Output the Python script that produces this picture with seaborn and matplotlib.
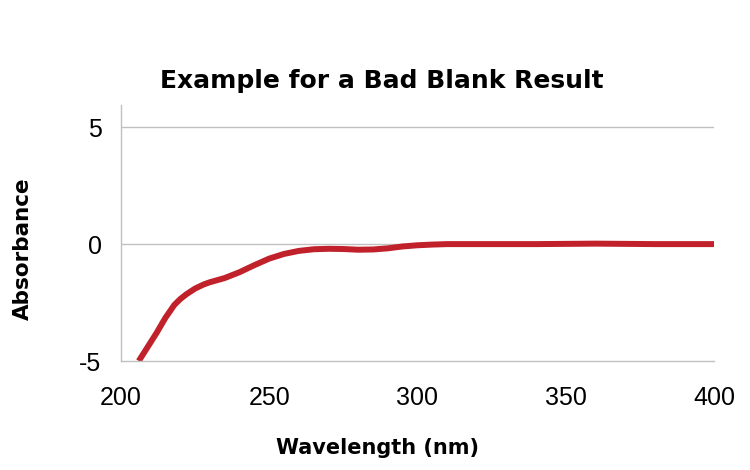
import pandas as pd
import seaborn as sns
import matplotlib.pyplot as plt

# values
wavelength = [206, 208, 210, 212, 215, 218, 220, 222, 225, 228, 230, 235, 240, 245, 250, 255, 260,
              265, 270, 275, 280, 285, 290, 295, 300, 305, 310, 320, 340, 360, 380, 400]
absorbance = [-5.0, -4.6, -4.2, -3.8, -3.15, -2.6, -2.35, -2.15, -1.9, -1.72, -1.63, -1.45, -1.2,
              -0.9, -0.62, -0.42, -0.29, -0.22, -0.2, -0.21, -0.24, -0.23, -0.18, -0.1, -0.05,
              -0.02, 0.0, 0.0, 0.0, 0.02, 0.0, 0.0]
x_ticks = [200, 250, 300, 350, 400]
y_ticks = [-5, 0, 5]

sns.set_style("white")
plt.rcParams['font.family'] = ['Liberation Sans', 'DejaVu Sans']
plt.rcParams['text.color'] = 'black'
plt.rcParams['axes.labelcolor'] = 'black'

mydata = pd.DataFrame({"Wavelength": wavelength, "Absorbance": absorbance})

fig = plt.figure(figsize=(7.5, 4.7), dpi=100)
ax = fig.add_axes([0.1613, 0.2319, 0.7907, 0.5447])

sns.lineplot(data=mydata, x="Wavelength", y="Absorbance", color="#c0212a",
             linewidth=4.3, ax=ax, solid_capstyle="butt", solid_joinstyle="round")

ax.set_xlim(200, 400)
ax.set_ylim(-5, 5.95)
ax.set_xticks(x_ticks)
ax.set_yticks(y_ticks)
ax.set_yticklabels(["-5", "0", "5"])

for yv in [0, 5]:
    ax.axhline(yv, color="#c0c0c0", linewidth=1, zorder=0)

for side in ["top", "right"]:
    ax.spines[side].set_visible(False)
for side in ["left", "bottom"]:
    ax.spines[side].set_color("#c0c0c0")
    ax.spines[side].set_linewidth(1)

ax.tick_params(axis="both", which="major", labelsize=18, colors="#c0c0c0",
               labelcolor="black", length=4, width=1, direction="out")
ax.tick_params(axis="x", pad=14)
ax.tick_params(axis="y", pad=10)

ax.set_xlabel("Wavelength (nm)", fontsize=15, fontweight="bold", family="DejaVu Sans")
ax.set_ylabel("Absorbance", fontsize=15.5, fontweight="bold", family="DejaVu Sans")
ax.xaxis.set_label_coords(0.432, -0.34)
ax.xaxis.label.set_va("center")
ax.yaxis.set_label_coords(-0.166, 0.44)
ax.yaxis.label.set_va("center")

fig.text(0.509, 0.828, "Example for a Bad Blank Result", ha="center", va="center",
         fontsize=18, fontweight="bold", family="DejaVu Sans")

fig.savefig("out.png", dpi=100)
